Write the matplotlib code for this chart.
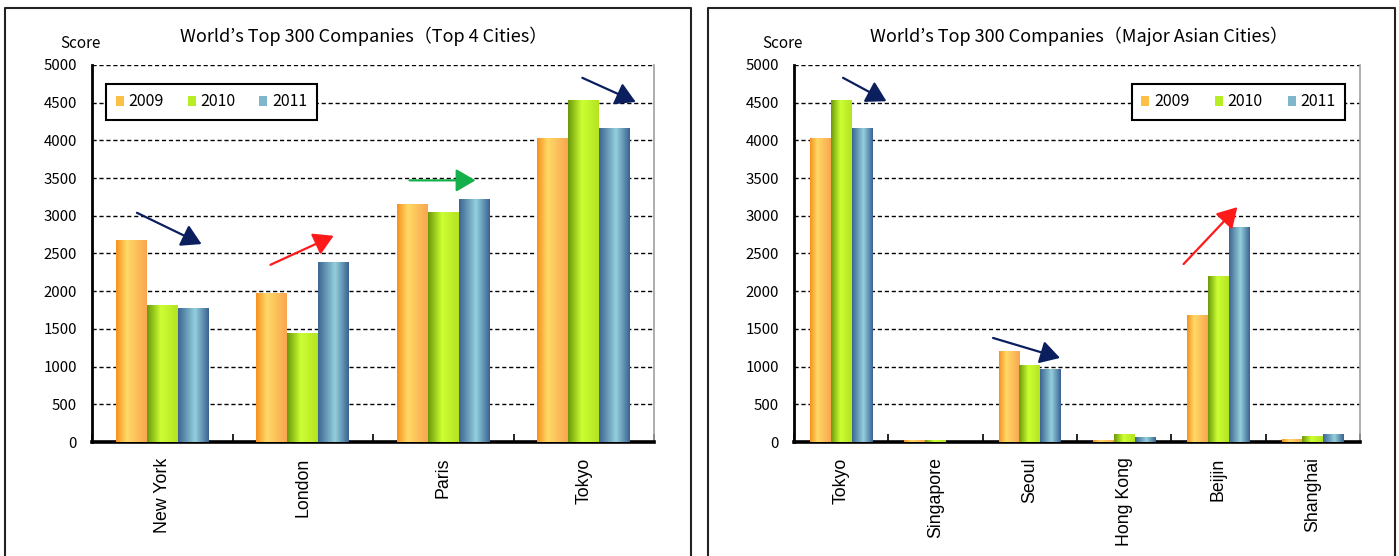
import numpy as np
import matplotlib
matplotlib.use('Agg')
import matplotlib.pyplot as plt
from matplotlib.colors import LinearSegmentedColormap
from matplotlib.patches import Patch
from matplotlib.lines import Line2D

# data
years = ['2009', '2010', '2011']

cities_top4 = ['New York', 'London', 'Paris', 'Tokyo']
top4_2009 = [2670, 1970, 3150, 4020]
top4_2010 = [1810, 1440, 3040, 4530]
top4_2011 = [1770, 2380, 3210, 4160]

cities_asia = ['Tokyo', 'Singapore', 'Seoul', 'Hong Kong', 'Beijin', 'Shanghai']
asia_2009 = [4020, 20, 1200, 15, 1680, 30]
asia_2010 = [4530, 20, 1020, 100, 2200, 75]
asia_2011 = [4160, 0, 955, 60, 2850, 100]

yticks = [0, 500, 1000, 1500, 2000, 2500, 3000, 3500, 4000, 4500, 5000]

# trend arrows (start, end) in data units
arrows_top4 = [((-0.18, 3040), (0.28, 2625), '#0b1f5e'),
               ((0.77, 2350), (1.22, 2735), '#ff1a1a'),
               ((1.76, 3470), (2.23, 3470), '#16b04a'),
               ((2.99, 4830), (3.37, 4510), '#0b1f5e')]
arrows_asia = [((0.02, 4830), (0.48, 4520), '#0b1f5e'),
               ((1.61, 1380), (2.32, 1115), '#0b1f5e'),
               ((3.63, 2360), (4.20, 3115), '#ff1a1a')]

jp = ['Noto Sans CJK JP', 'DejaVu Sans']
plt.rcParams['font.family'] = jp

grads = [
    LinearSegmentedColormap.from_list('o', [(0, '#f7901e'), (0.35, '#ffd966'), (1, '#f9a650')]),
    LinearSegmentedColormap.from_list('g', [(0, '#6a980a'), (0.45, '#ccff33'), (1, '#b4e322')]),
    LinearSegmentedColormap.from_list('b', [(0, '#3c6590'), (0.55, '#93cfdd'), (1, '#3a6290')]),
]
mid = ['#fcc048', '#b8ec25', '#7fb6cc']


def draw(ax, cats, series, arrows, title, title_x, legend_box):
    x = np.arange(len(cats))
    w = 0.22
    for k, vals in enumerate(series):
        bars = ax.bar(x + (k - 1) * w, vals, w, color=mid[k], zorder=2)
        g = np.linspace(0, 1, 256).reshape(1, -1)
        for b in bars:
            bx, by = b.get_x(), b.get_y()
            bw, bh = b.get_width(), b.get_height()
            if bh <= 0:
                continue
            ax.imshow(g, extent=[bx, bx + bw, by, by + bh], aspect='auto',
                      cmap=grads[k], zorder=3, interpolation='bilinear')
    ax.set_xlim(-0.5, len(cats) - 0.5)
    ax.set_ylim(0, 5000)
    ax.set_yticks(yticks)
    ax.set_yticklabels([str(v) for v in yticks], fontsize=10.8)
    ax.tick_params(axis='y', length=0, pad=11)
    ax.set_xticks(x)
    ax.set_xticklabels(cats, rotation=90, fontsize=12.8, family='Liberation Sans')
    ax.tick_params(axis='x', length=0, pad=11)
    ax.set_xticks(np.arange(len(cats) + 1) - 0.5, minor=True)
    ax.tick_params(axis='x', which='minor', direction='in', length=6, width=1.2)
    ax.yaxis.grid(True, color='black', linestyle=(0, (3, 2)), linewidth=1)
    ax.set_axisbelow(True)
    ax.spines['top'].set_visible(False)
    ax.spines['right'].set_color('#a0a0a0')
    ax.spines['right'].set_linewidth(1.2)
    ax.spines['left'].set_linewidth(2)
    ax.spines['bottom'].set_linewidth(2.6)
    for (s, e, c) in arrows:
        ax.annotate('', xy=e, xytext=s,
                    arrowprops=dict(arrowstyle='-|>,head_length=0.6,head_width=0.35',
                                    color=c, lw=1.6, mutation_scale=20,
                                    shrinkA=0, shrinkB=0), zorder=5)
    ax.text(title_x, 1.077, title, transform=ax.transAxes, ha='center', va='center',
            fontsize=13)
    ax.text(-0.02, 1.058, 'Score', transform=ax.transAxes, ha='center', va='center',
            fontsize=11)
    handles = [Patch(facecolor=mid[k]) for k in range(3)]
    leg = ax.legend(handles, years, loc='upper left', bbox_to_anchor=legend_box,
                    mode='expand', ncol=3, fontsize=11.5, frameon=True, fancybox=False,
                    framealpha=1, handlelength=0.5, handleheight=0.6, handletextpad=0.3,
                    columnspacing=1.0, borderaxespad=0, borderpad=0.6)
    leg.get_frame().set_edgecolor('black')
    leg.get_frame().set_linewidth(1.5)
    leg.set_zorder(6)


fig = plt.figure(figsize=(13.99, 5.56), dpi=100)
ax1 = fig.add_axes([92 / 1399, 114 / 556, 562 / 1399, 377 / 556])
ax2 = fig.add_axes([794 / 1399, 114 / 556, 566 / 1399, 377 / 556])

draw(ax1, cities_top4, [top4_2009, top4_2010, top4_2011], arrows_top4,
     'World\u2019s Top 300 Companies\uff08Top 4 Cities\uff09', 0.484,
     (0.025, 0.95, 0.375, 0.0))
draw(ax2, cities_asia, [asia_2009, asia_2010, asia_2011], arrows_asia,
     'World\u2019s Top 300 Companies\uff08Major Asian Cities\uff09', 0.5035,
     (0.597, 0.95, 0.377, 0.0))

# outer frames around each chart
for x0, x1 in [(5, 691), (708, 1395)]:
    fx0, fx1 = x0 / 1399, x1 / 1399
    fy = 1 - 8 / 556
    fig.add_artist(Line2D([fx0, fx0, fx1, fx1], [0, fy, fy, 0], color='#222222',
                          lw=1.5, transform=fig.transFigure))

fig.savefig('out.png', dpi=100)
